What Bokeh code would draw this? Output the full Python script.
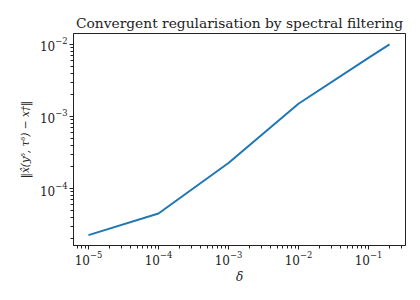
from bokeh.plotting import figure
from bokeh.models import LogTicker, LogTickFormatter, Range1d
from bokeh.embed import file_html
from bokeh.resources import INLINE

delta = [1e-5, 1e-4, 1e-3, 1e-2, 1e-1, 2e-1]
error = [2.26e-5, 4.5e-5, 2.26e-4, 1.5e-3, 6.5e-3, 1.0e-2]

FONT = "DejaVu Serif"

p = figure(frame_width=332, frame_height=212, x_axis_type="log", y_axis_type="log",
           output_backend="svg", toolbar_location=None,
           x_range=Range1d(10 ** -5.214, 10 ** -0.471),
           y_range=Range1d(10 ** -4.79, 10 ** -1.85),
           min_border_left=73, min_border_right=7,
           min_border_top=33, min_border_bottom=38)

p.title.text = "Convergent regularisation by spectral filtering"
p.title.align = "center"
p.title.text_font = FONT
p.title.text_font_style = "normal"
p.title.text_font_size = "13.8px"
p.title.text_color = "#222222"
p.title.standoff = 6

p.line(delta, error, line_color="#1f77b4", line_width=2)

p.xaxis.ticker = LogTicker(num_minor_ticks=10, desired_num_ticks=6)
p.yaxis.ticker = LogTicker(num_minor_ticks=10, desired_num_ticks=4)
p.xaxis.formatter = LogTickFormatter()
p.yaxis.formatter = LogTickFormatter()

for ax in (p.xaxis[0], p.yaxis[0]):
    ax.major_label_text_font = FONT
    ax.major_label_text_font_size = "12px"
    ax.major_label_text_color = "#222222"
    ax.axis_label_text_font = FONT
    ax.axis_label_text_font_size = "12px"
    ax.axis_label_text_font_style = "italic"
    ax.axis_label_text_color = "#222222"
    ax.major_tick_out = 4
    ax.major_tick_in = 0
    ax.minor_tick_out = 3
    ax.minor_tick_in = 0
    ax.axis_line_color = "#222222"
    ax.major_tick_line_color = "#222222"
    ax.minor_tick_line_color = "#222222"
    ax.major_label_standoff = 2
    ax.axis_label_standoff = 4

p.xaxis.major_label_standoff = 1
p.xaxis.axis_label_standoff = 2
p.xaxis.axis_label = "δ"
p.yaxis.axis_label = "‖x̂(yᵟ, τᵟ) − x†‖"
p.yaxis.axis_label_text_font_size = "10.5px"
p.yaxis.axis_label_standoff = 6
p.yaxis.major_label_orientation = "horizontal"

p.xgrid.visible = False
p.ygrid.visible = False
p.outline_line_color = "#222222"
p.outline_line_width = 1
p.background_fill_color = "white"
p.border_fill_color = "white"

open("out.html", "w").write(file_html(p, INLINE))
